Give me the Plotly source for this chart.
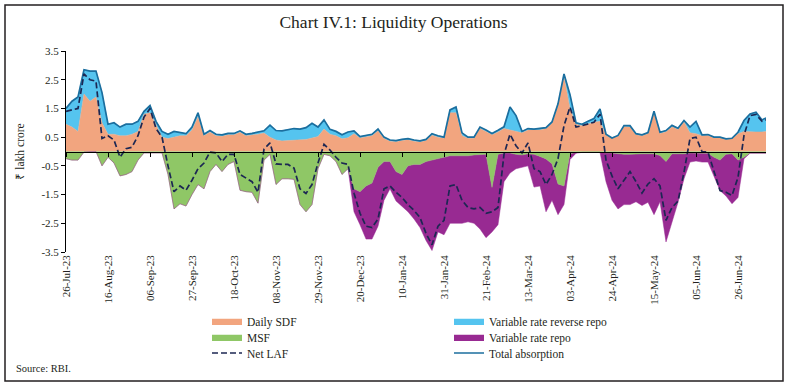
import pandas as pd
import plotly.graph_objects as go

# ---------------- data (₹ lakh crore), sampled every 3 days from 26-Jul-23 ----------------
start = pd.Timestamp("2023-07-26")
day_offsets = list(range(0, 349, 3)) + [350]
dates = [start + pd.Timedelta(days=d) for d in day_offsets]

daily_sdf = [0.95, 0.85, 0.7, 2.0, 1.75, 1.9, 1.0, 0.6, 0.6, 0.55, 0.55, 0.6, 0.7, 1.3, 1.35, 0.9, 0.5, 0.45, 0.5,
             0.55, 0.55, 0.75, 1.2, 0.55, 0.68, 0.55, 0.53, 0.58, 0.58, 0.67, 0.55, 0.57, 0.6, 0.64, 0.5, 0.4, 0.37,
             0.38, 0.4, 0.4, 0.42, 0.47, 0.52, 0.78, 0.6, 0.55, 0.44, 0.48, 0.62, 0.47, 0.5, 0.55, 0.72, 0.45, 0.36,
             0.34, 0.38, 0.41, 0.36, 0.33, 0.38, 0.57, 0.5, 0.46, 1.35, 1.35, 0.55, 0.46, 0.46, 0.8, 0.7, 0.58, 0.68,
             0.8, 0.75, 0.7, 0.65, 0.75, 0.75, 0.75, 0.8, 0.98, 1.6, 2.6, 1.5, 0.95, 0.9, 0.97, 1.02, 1.05, 0.57, 0.45,
             0.54, 0.87, 0.85, 0.58, 0.55, 0.62, 1.35, 0.63, 0.69, 0.86, 0.77, 1.03, 0.65, 0.62, 0.55, 0.56, 0.47,
             0.47, 0.42, 0.44, 0.62, 0.7, 0.68, 0.68, 0.68, 0.7]

variable_rate_reverse_repo = [0.55, 0.9, 1.2, 0.85, 1.05, 0.9, 1.05, 0.35, 0.4, 0.3, 0.4, 0.35, 0.35, 0.1, 0.25, 0.15,
                              0.2, 0.15, 0.2, 0.12, 0.07, 0.1, 0.15, 0.05, 0.05, 0.05, 0.05, 0.05, 0.05, 0.05, 0.05,
                              0.06, 0.07, 0.08, 0.42, 0.33, 0.35, 0.39, 0.4, 0.38, 0.41, 0.51, 0.33, 0.32, 0.17, 0.15,
                              0.14, 0.2, 0.1, 0.05, 0.05, 0.05, 0.06, 0.05, 0.04, 0.04, 0.04, 0.04, 0.04, 0.04, 0.04,
                              0.05, 0.05, 0.04, 0.1, 0.2, 0.1, 0.04, 0.04, 0.05, 0.05, 0.05, 0.06, 0.06, 0.8, 0.55,
                              0.05, 0.05, 0.03, 0.05, 0.03, 0.05, 0.06, 0.1, 0.48, 0.05, 0.05, 0.08, 0.13, 0.43, 0.03,
                              0.02, 0.02, 0.03, 0.05, 0.04, 0.03, 0.04, 0.05, 0.04, 0.04, 0.05, 0.04, 0.05, 0.2, 0.43,
                              0.03, 0.03, 0.03, 0.03, 0.02, 0.02, 0.05, 0.38, 0.63, 0.69, 0.42, 0.47]

msf = [-0.25, -0.3, -0.3, -0.02, 0.0, 0.0, -0.5, -0.2, -0.4, -0.85, -0.8, -0.7, -0.3, -0.05, -0.05, -0.05, -0.05,
       -0.8, -2.0, -1.82, -1.9, -1.5, -1.15, -1.3, -0.7, -0.45, -0.7, -0.45, -0.35, -1.35, -1.4, -1.42, -1.8, -0.3,
       -0.1, -1.15, -0.95, -0.95, -0.97, -1.85, -2.1, -1.85, -0.6, -0.1, -0.15, -0.35, -0.8, -0.6, -1.3, -1.4, -1.2,
       -1.1, -0.55, -0.35, -0.35, -0.7, -0.8, -0.5, -0.45, -0.45, -0.35, -0.3, -0.25, -0.2, -0.15, -0.15, -0.15,
       -0.15, -0.12, -0.12, -0.1, -1.25, -0.1, -0.05, -0.05, -0.1, -0.12, -0.08, -0.1, -0.17, -0.26, -0.43, -1.13,
       -1.2, -0.08, -0.03, -0.02, -0.02, -0.02, -0.02, -0.05, -0.05, -0.08, -0.1, -0.1, -0.08, -0.08, -0.08, -0.08,
       -0.14, -0.35, -0.08, -0.08, -0.08, -0.05, -0.05, -0.05, -0.06, -0.2, -0.3, -0.1, -0.08, -0.3, -0.2, -0.05,
       -0.05, -0.05, -0.05]

variable_rate_repo = [0.0] * 48 + [
    -0.8, -1.15, -1.85, -1.95, -2.05, -1.35, -0.95, -1.02, -1.1, -1.6, -1.9, -2.2, -2.75, -3.15, -2.55, -2.7,
    -2.35, -2.35, -2.35, -2.3, -2.38, -2.58, -2.9, -1.55, -2.45, -1.0, -0.7, -0.5, -0.43, -0.42, -1.14, -1.03,
    -1.84, -1.27, -1.07, -0.65, -0.2, -0.03, -0.01, -0.01, -0.01, -0.01, -1.0, -1.65, -1.92, -1.75, -1.75, -1.67,
    -1.8, -1.69, -2.12, -1.61, -2.8, -2.37, -1.69, -0.87, -0.32, -0.28, -0.32, -0.31, -0.64, -1.06, -1.45, -1.74,
    -1.3, -0.05, -0.01, -0.01, -0.01, -0.01]

net_laf = [1.4, 1.45, 1.5, 2.7, 2.5, 2.45, 0.45, 0.55, 0.4, -0.2, 0.1, 0.15, 0.55, 1.2, 1.5, 0.8, 0.5, -0.5, -1.4,
           -1.2, -1.35, -1.0, -0.6, -0.4, -0.02, -0.05, -0.35, -0.1, -0.1, -0.8, -0.92, -1.05, -1.42, 0.08, 0.3,
           -0.43, -0.45, -0.45, -0.58, -1.3, -1.46, -1.15, -0.4, 0.25, 0.05, -0.2, -0.4, -0.45, -1.45, -2.15, -2.6,
           -2.65, -2.35, -1.3, -1.2, -1.42, -1.6, -1.85, -2.05, -2.3, -2.85, -3.25, -2.6, -2.4, -1.2, -1.15, -1.7,
           -1.95, -2.0, -1.95, -2.15, -2.1, -1.95, -0.1, 0.6, 0.2, -0.05, 0.3, -0.6, -0.7, -1.15, -0.8, -0.25, 0.9,
           1.55, 0.85, 0.9, 0.96, 1.02, 1.3, -0.3, -0.85, -1.3, -1.0, -0.7, -1.05, -1.45, -1.13, -0.95, -1.2, -2.4,
           -1.95, -1.73, -0.72, 0.45, 0.5, 0.0, -0.02, -0.66, -1.36, -1.42, -1.53, -0.9, 0.56, 1.25, 1.29, 1.05, 1.1]

total_absorption = [1.5, 1.75, 1.9, 2.85, 2.8, 2.8, 2.05, 0.95, 1.0, 0.85, 0.95, 0.95, 1.05, 1.4, 1.6, 1.05, 0.7, 0.6,
                    0.7, 0.67, 0.62, 0.85, 1.35, 0.6, 0.73, 0.6, 0.58, 0.63, 0.63, 0.72, 0.6, 0.63, 0.67, 0.72, 0.92,
                    0.73, 0.72, 0.77, 0.8, 0.78, 0.83, 0.98, 0.85, 1.1, 0.77, 0.7, 0.58, 0.68, 0.72, 0.52, 0.55, 0.6,
                    0.78, 0.5, 0.4, 0.38, 0.42, 0.45, 0.4, 0.37, 0.42, 0.62, 0.55, 0.5, 1.45, 1.55, 0.65, 0.5, 0.5,
                    0.85, 0.75, 0.63, 0.74, 0.86, 1.55, 1.25, 0.7, 0.8, 0.78, 0.8, 0.83, 1.03, 1.66, 2.7, 1.98, 1.0,
                    0.95, 1.05, 1.15, 1.48, 0.6, 0.47, 0.56, 0.9, 0.9, 0.62, 0.58, 0.66, 1.4, 0.67, 0.73, 0.91, 0.81,
                    1.08, 0.85, 1.05, 0.58, 0.59, 0.5, 0.5, 0.44, 0.46, 0.67, 1.08, 1.31, 1.37, 1.1, 1.17]

tick_labels = ["26-Jul-23", "16-Aug-23", "06-Sep-23", "27-Sep-23", "18-Oct-23", "08-Nov-23", "29-Nov-23",
               "20-Dec-23", "10-Jan-24", "31-Jan-24", "21-Feb-24", "13-Mar-24", "03-Apr-24", "24-Apr-24",
               "15-May-24", "05-Jun-24", "26-Jun-24"]
tick_dates = list(pd.to_datetime(tick_labels, format="%d-%b-%y"))

y_ticks = [-3.5, -2.5, -1.5, -0.5, 0.5, 1.5, 2.5, 3.5]
y_tick_text = ["-3.5", "-2.5", "-1.5", "-0.5", "0.5", "1.5", "2.5", "3.5"]

# ---------------- styling ----------------
ORANGE = "#F2A57F"
LIGHTBLUE = "#55C4EF"
GREEN = "#8FC766"
PURPLE = "#982A92"
NAVY = "#1C2753"
TEAL = "#1B6E9E"
FONT = "Liberation Serif"
TXT = "#231f20"

W, H = 787, 386
ML, MR, MT, MB = 66, 21, 51, 134
PW, PH = W - ML - MR, H - MT - MB


def px_x(p):
    return (p - ML) / PW


def px_y(p):
    return (H - MB - p) / PH


fig = go.Figure()

fig.add_trace(go.Scatter(x=dates, y=daily_sdf, name="Daily SDF", stackgroup="pos", mode="lines",
                         line=dict(width=0.5, color=ORANGE), fillcolor=ORANGE, legend="legend",
                         hoverinfo="skip"))
fig.add_trace(go.Scatter(x=dates, y=variable_rate_reverse_repo, name="Variable rate reverse repo",
                         stackgroup="pos", mode="lines", line=dict(width=0.5, color=LIGHTBLUE),
                         fillcolor=LIGHTBLUE, legend="legend4", hoverinfo="skip"))
fig.add_trace(go.Scatter(x=dates, y=msf, name="MSF", stackgroup="neg", mode="lines",
                         line=dict(width=0.5, color=GREEN), fillcolor=GREEN, legend="legend2",
                         hoverinfo="skip"))
fig.add_trace(go.Scatter(x=dates, y=variable_rate_repo, name="Variable rate repo", stackgroup="neg",
                         mode="lines", line=dict(width=0.5, color=PURPLE), fillcolor=PURPLE,
                         legend="legend5", hoverinfo="skip"))
fig.add_trace(go.Scatter(x=dates, y=total_absorption, name="Total absorption", mode="lines",
                         line=dict(width=1.7, color=TEAL), legend="legend6"))
fig.add_trace(go.Scatter(x=dates, y=net_laf, name="Net LAF", mode="lines", xaxis="x2",
                         line=dict(width=1.7, color=NAVY, dash="6px,3px"), legend="legend3"))

x_range = [start, start + pd.Timedelta(days=350)]


def leg(px_left, px_center):
    return dict(x=px_x(px_left), y=px_y(px_center), xanchor="left", yanchor="middle",
                bgcolor="rgba(0,0,0,0)", traceorder="normal",
                font=dict(family=FONT, size=11.5, color=TXT))


fig.update_layout(
    width=W, height=H,
    margin=dict(l=ML, r=MR, t=MT, b=MB, autoexpand=False),
    paper_bgcolor="white", plot_bgcolor="white",
    font=dict(family=FONT, size=11, color=TXT),
    title=dict(text="Chart IV.1: Liquidity Operations", x=0.5, xanchor="center", xref="container",
               y=1 - 22 / H, yanchor="middle", yref="container",
               font=dict(family=FONT, size=17.5, color=TXT)),
    xaxis=dict(type="date", range=x_range, showline=False, ticks="", showgrid=False, zeroline=False,
               automargin=False,
               tickmode="array", tickvals=tick_dates, ticktext=tick_labels, tickangle=-90,
               tickfont=dict(family=FONT, size=11, color=TXT)),
    xaxis2=dict(type="date", range=x_range, overlaying="x", anchor="free", position=0.5,
                showline=True, linecolor="black", linewidth=1.3, ticks="outside", ticklen=4,
                tickcolor="black", tickwidth=1, tickmode="array", tickvals=tick_dates,
                showticklabels=False, showgrid=False, zeroline=False, automargin=False),
    yaxis=dict(range=[-3.5, 3.5], showline=True, linecolor="black", linewidth=1, ticks="outside",
               ticklen=4, tickcolor="black", tickmode="array", tickvals=y_ticks, ticktext=y_tick_text,
               showgrid=False, zeroline=False, automargin=False,
               tickfont=dict(family=FONT, size=11, color=TXT),
               title=dict(text="₹ lakh crore", standoff=14, font=dict(family=FONT, size=11.5))),
    legend=leg(207, 321),
    legend2=leg(207, 337),
    legend3=leg(207, 353),
    legend4=leg(449, 321),
    legend5=leg(449, 337),
    legend6=leg(449, 353),
    showlegend=True,
)

fig.add_shape(type="rect", xref="paper", yref="paper",
              x0=px_x(5), x1=px_x(783), y0=px_y(381), y1=px_y(5),
              line=dict(color=TXT, width=1.5), fillcolor="rgba(0,0,0,0)", layer="below")

fig.add_annotation(text="Source: RBI.", xref="paper", yref="paper", x=px_x(14), y=px_y(368),
                   xanchor="left", yanchor="middle", showarrow=False,
                   font=dict(family=FONT, size=10.5, color=TXT))

fig.write_html("out.html", config={"displayModeBar": False},
               post_script="document.body.style.margin='0';document.body.style.padding='0';")
